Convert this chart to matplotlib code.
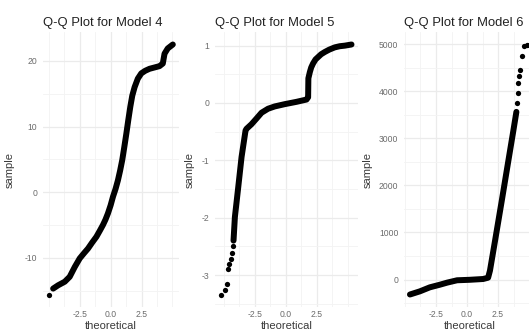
"""
Q-Q plots of residuals for models 4, 5 and 6, drawn side by side.
"""
import numpy as np
import matplotlib
matplotlib.use("Agg")
import matplotlib.pyplot as plt

plt.rcParams["font.family"] = ["Liberation Sans", "DejaVu Sans"]
plt.rcParams["axes.unicode_minus"] = False

# Model 4: dense body of the Q-Q curve and the lone extreme point
m4_theo = [-4.65, -4.25, -3.71, -3.31, -2.90, -2.50, -2.15, -1.83, -1.50, -1.15,
           -0.88, -0.62, -0.42, -0.22, 0.00, 0.19, 0.40, 0.59, 0.77, 0.94, 1.10,
           1.27, 1.43, 1.59, 1.75, 1.94, 2.20, 2.48, 2.80, 3.15, 3.55, 3.95,
           4.22, 4.36, 4.62, 5.03]
m4_sample = [-14.7, -14.2, -13.65, -12.9, -11.4, -10.1, -9.3, -8.6, -7.7, -6.8,
             -5.9, -5.0, -4.2, -3.25, -2.0, -0.7, 0.5, 1.8, 3.3, 4.9, 6.8,
             8.9, 11.0, 13.0, 14.7, 16.0, 17.3, 18.1, 18.5, 18.8, 19.0, 19.2,
             19.6, 21.1, 21.9, 22.5]
m4_tail_theo = [-4.97]
m4_tail_sample = [-15.6]

# Model 5
m5_theo = [-4.22, -4.11, -3.84, -3.57, -3.25, -3.17, -2.77, -2.36, -1.96, -1.43,
           -0.89, -0.08, 0.86, 1.67, 1.80, 1.82, 1.94, 2.05, 2.20, 2.40, 2.60,
           2.85, 3.15, 3.50, 3.95, 4.35, 4.76, 5.30]
m5_sample = [-2.40, -1.99, -1.47, -0.94, -0.48, -0.45, -0.37, -0.27, -0.17, -0.10,
             -0.06, -0.02, 0.02, 0.06, 0.10, 0.43, 0.54, 0.62, 0.69, 0.76, 0.80,
             0.85, 0.89, 0.93, 0.97, 0.99, 1.00, 1.02]
m5_tail_theo = [-5.19, -4.92, -4.73, -4.65, -4.55, -4.45, -4.38, -4.30]
m5_tail_sample = [-3.34, -3.27, -3.15, -2.89, -2.80, -2.72, -2.62, -2.50]

# Model 6
m6_theo = [-4.60, -3.80, -3.00, -2.20, -1.60, -0.80, 0.20, 1.30, 1.70, 1.85,
           2.26, 2.80, 3.33, 3.73, 3.98]
m6_sample = [-317, -250, -165, -110, -65, -15, -5, 12, 40, 190,
             825, 1672, 2518, 3153, 3560]
m6_tail_theo = [4.06, 4.09, 4.14, 4.22, 4.27, 4.41, 4.60, 4.80, 5.00]
m6_tail_sample = [3750, 3960, 4175, 4316, 4458, 4740, 4951, 4975, 4990]

titles = ["Q-Q Plot for Model 4", "Q-Q Plot for Model 5", "Q-Q Plot for Model 6"]

x_ticks = [-2.5, 0.0, 2.5]
x_minor = [-5.0, -3.75, -1.25, 1.25, 3.75, 5.0]
x_labels = ["-2.5", "0.0", "2.5"]

m4_yticks = [-10, 0, 10, 20]
m4_yminor = [-15, -5, 5, 15]
m5_yticks = [-3, -2, -1, 0, 1]
m5_yminor = [-3.5, -2.5, -1.5, -0.5, 0.5]
m6_yticks = [0, 1000, 2000, 3000, 4000, 5000]
m6_yminor = [-500, 500, 1500, 2500, 3500, 4500]

W, H = 529, 333
fig = plt.figure(figsize=(W / 100, H / 100), dpi=100)
fig.patch.set_facecolor("white")

# panel rectangles in pixels: left, width (shared top/bottom)
panels = [(43, 136), (215, 143), (404, 131)]
top_px, bottom_px = 32, 307
ylabel_x = [-0.206, -0.14, -0.242]

series = [
    (m4_theo, m4_sample, m4_tail_theo, m4_tail_sample, m4_yticks, m4_yminor),
    (m5_theo, m5_sample, m5_tail_theo, m5_tail_sample, m5_yticks, m5_yminor),
    (m6_theo, m6_sample, m6_tail_theo, m6_tail_sample, m6_yticks, m6_yminor),
]

for i, ((left, width), (th, sa, tth, tsa, yt, ym)) in enumerate(zip(panels, series)):
    ax = fig.add_axes([left / W, (H - bottom_px) / H, width / W,
                       (bottom_px - top_px) / H])
    ax.set_facecolor("white")
    for sp in ax.spines.values():
        sp.set_visible(False)

    ax.plot(th, sa, color="black", lw=4.3, solid_capstyle="round",
            solid_joinstyle="round", zorder=3)
    ax.plot(tth, tsa, "o", color="black", ms=3.8, mew=0, zorder=3)
    ax.margins(0.05)

    ax.set_xticks(x_ticks)
    ax.set_xticklabels(x_labels)
    ax.set_xticks(x_minor, minor=True)
    ax.set_yticks(yt)
    ax.set_yticklabels([str(v) for v in yt])
    ax.set_yticks(ym, minor=True)

    ax.grid(True, which="major", color="#ebebeb", lw=0.9, zorder=0)
    ax.grid(True, which="minor", color="#f3f3f3", lw=0.6, zorder=0)
    ax.set_axisbelow(True)
    ax.tick_params(which="both", length=0)
    ax.tick_params(axis="x", pad=2.5, labelsize=6.2, labelcolor="#6b6b6b")
    ax.tick_params(axis="y", pad=4, labelsize=6.2, labelcolor="#6b6b6b")

    ax.set_xlabel("theoretical", fontsize=8, color="#3a3a3a")
    ax.xaxis.set_label_coords(0.5, -0.05)
    ax.set_ylabel("sample", fontsize=8, color="#3a3a3a")
    ax.yaxis.set_label_coords(ylabel_x[i], 0.5)

    ax.set_title(titles[i], loc="left", fontsize=9.4, color="#222222", pad=4.5)

fig.savefig("out.png", dpi=100)
